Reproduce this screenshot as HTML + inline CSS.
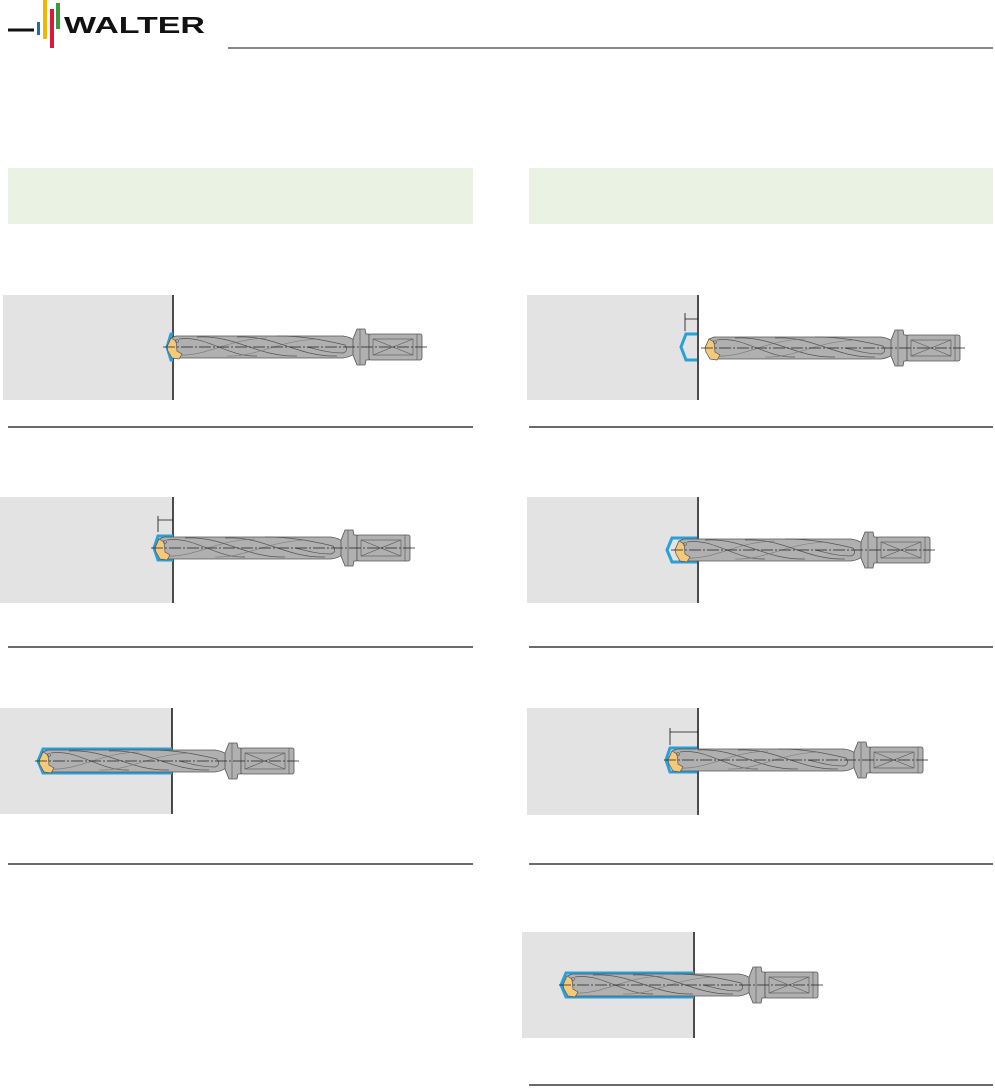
<!DOCTYPE html>
<html><head><meta charset="utf-8"><style>
html,body{margin:0;padding:0;background:#fff;}
svg{display:block;}
</style></head><body>
<svg width="995" height="1088" viewBox="0 0 995 1088" xmlns="http://www.w3.org/2000/svg">
<defs>
<g id="drill">
  <path d="M0,0 L4,-9 L9,-11 L176,-11 Q184,-10 188,-6 L188,6 Q184,10 176,11 L9,11 L4,9 Z" fill="#b0b0b0" stroke="#555" stroke-width="0.8"/>
  <path d="M12,-8 C40,-12 60,10 90,9 M30,-10 C70,-12 90,10 130,9 M70,-10 C110,-12 130,10 170,9 M110,-11 C140,-11 160,-6 178,-2 Q182,4 176,6 C160,6 150,2 140,0" fill="none" stroke="#555" stroke-width="0.7"/>
  <path d="M10,8 C40,10 60,-8 100,-9 M60,9 C90,10 110,-6 150,-8" fill="none" stroke="#777" stroke-width="0.6"/>
  <path d="M0,0 L4,-9 L9,-6 L10,4 L15,7 L12,12 L5,11 L1,4 Z" fill="#f5c97a" stroke="#555" stroke-width="0.7"/>
  <circle cx="10" cy="-6" r="1.5" fill="none" stroke="#555" stroke-width="0.6"/>
  <path d="M186,-8 L190,-18 L198,-18 L199,-13 L202,-13 L202,13 L199,13 L198,18 L190,18 L186,8 Z" fill="#b0b0b0" stroke="#555" stroke-width="0.8"/>
  <line x1="193" y1="-18" x2="193" y2="18" stroke="#555" stroke-width="0.6"/>
  <rect x="202" y="-13" width="53" height="26" rx="2" fill="#b0b0b0" stroke="#555" stroke-width="0.8"/>
  <rect x="206" y="-8" width="40" height="16" fill="none" stroke="#555" stroke-width="0.6"/>
  <path d="M206,-8 L246,8 M206,8 L246,-8" stroke="#555" stroke-width="0.6"/>
  <line x1="250" y1="-13" x2="250" y2="13" stroke="#555" stroke-width="0.6"/>
  <line x1="-4" y1="0" x2="262" y2="0" stroke="#222" stroke-width="0.7" stroke-dasharray="12,2,2,2"/>
</g>
</defs>

<!-- logo -->
<line x1="8" y1="30" x2="34" y2="30" stroke="#111" stroke-width="3"/>
<rect x="37" y="22" width="3" height="13" fill="#1a6eb5"/>
<rect x="43" y="0" width="4" height="39" fill="#f2b800"/>
<rect x="50" y="9" width="4" height="39" fill="#d7193f"/>
<rect x="56" y="3" width="4" height="26" fill="#3b9b3b"/>
<text x="64" y="33" font-family="Liberation Sans, sans-serif" font-size="23" font-weight="bold" fill="#111" textLength="141" lengthAdjust="spacingAndGlyphs">WALTER</text>
<line x1="228" y1="48" x2="993" y2="48" stroke="#111" stroke-width="1"/>

<rect x="8" y="168" width="465" height="56" fill="#eaf3e3"/>
<rect x="529" y="168" width="464" height="56" fill="#eaf3e3"/>

<g stroke="#111" stroke-width="1.3">
<line x1="8" y1="427" x2="473" y2="427"/><line x1="8" y1="647" x2="473" y2="647"/><line x1="8" y1="864" x2="473" y2="864"/>
<line x1="529" y1="427" x2="993" y2="427"/><line x1="529" y1="647" x2="993" y2="647"/><line x1="529" y1="864" x2="993" y2="864"/><line x1="529" y1="1085" x2="993" y2="1085"/>
</g>

<rect x="3" y="295" width="169" height="105" fill="#e3e3e3"/>
<line x1="173" y1="295" x2="173" y2="400" stroke="#111" stroke-width="1.5"/>
<path d="M173,334 L171,334 L167,347 L171,360 L173,360" fill="none" stroke="#2a9fd8" stroke-width="3"/>
<use href="#drill" x="167" y="347"/>

<rect x="0" y="497" width="172" height="106" fill="#e3e3e3"/>
<line x1="173" y1="497" x2="173" y2="603" stroke="#111" stroke-width="1.5"/>
<path d="M173,536 L158,536 L154,548 L158,560 L173,560" fill="none" stroke="#2a9fd8" stroke-width="3"/>
<path d="M158,516 L158,532 M158,520 L173,520" stroke="#111" stroke-width="0.8" fill="none"/>
<use href="#drill" x="155" y="548"/>

<rect x="0" y="708" width="172" height="106" fill="#e3e3e3"/>
<line x1="172" y1="708" x2="172" y2="814" stroke="#111" stroke-width="1.5"/>
<path d="M172,749 L43,749 L38,761 L43,773 L172,773" fill="none" stroke="#2a9fd8" stroke-width="3"/>
<use href="#drill" x="39" y="761"/>

<rect x="527" y="295" width="170" height="105" fill="#e3e3e3"/>
<line x1="698" y1="295" x2="698" y2="400" stroke="#111" stroke-width="1.5"/>
<path d="M697,334 L686,334 L681,347 L686,360 L697,360" fill="none" stroke="#2a9fd8" stroke-width="3"/>
<path d="M685,313 L685,331 M685,319 L698,319" stroke="#111" stroke-width="0.8" fill="none"/>
<use href="#drill" x="705" y="348"/>

<rect x="527" y="497" width="170" height="106" fill="#e3e3e3"/>
<line x1="698" y1="497" x2="698" y2="603" stroke="#111" stroke-width="1.5"/>
<path d="M697,538 L672,538 L667,550 L672,562 L697,562" fill="none" stroke="#2a9fd8" stroke-width="3"/>
<use href="#drill" x="675" y="550"/>

<rect x="527" y="708" width="170" height="107" fill="#e3e3e3"/>
<line x1="698" y1="708" x2="698" y2="815" stroke="#111" stroke-width="1.5"/>
<path d="M697,748 L670,748 L666,760 L670,772 L697,772" fill="none" stroke="#2a9fd8" stroke-width="3"/>
<path d="M670,728 L670,745 M670,732 L698,732" stroke="#111" stroke-width="0.8" fill="none"/>
<use href="#drill" x="668" y="760"/>

<rect x="522" y="932" width="171" height="106" fill="#e3e3e3"/>
<line x1="694" y1="932" x2="694" y2="1038" stroke="#111" stroke-width="1.5"/>
<path d="M694,973 L566,973 L561,985 L566,997 L694,997" fill="none" stroke="#2a9fd8" stroke-width="3"/>
<use href="#drill" x="563" y="985"/>
</svg>
</body></html>
